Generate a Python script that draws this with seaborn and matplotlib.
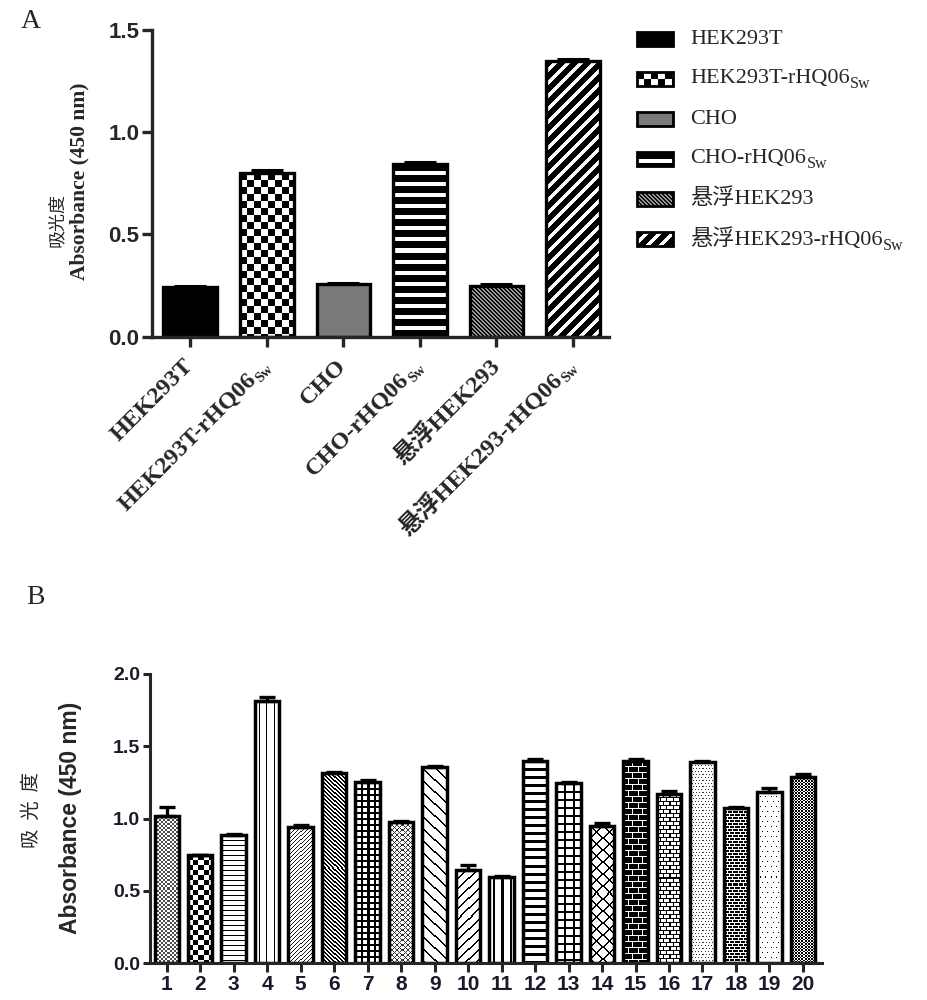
import numpy as np
import pandas as pd
import matplotlib
matplotlib.use("Agg")
import matplotlib.pyplot as plt
from matplotlib.patches import Rectangle
import seaborn as sns

# ---- panel A data ----
cells_a = ["HEK293T", "HEK293T-rHQ06", "CHO", "CHO-rHQ06", "悬浮HEK293", "悬浮HEK293-rHQ06"]
subs_a = ["", "Sw", "", "Sw", "", "Sw"]
mean_a = [0.245, 0.80, 0.256, 0.843, 0.248, 1.348]
err_a = [0.004, 0.015, 0.006, 0.013, 0.008, 0.010]

# ---- panel B data ----
samples_b = ["1", "2", "3", "4", "5", "6", "7", "8", "9", "10",
             "11", "12", "13", "14", "15", "16", "17", "18", "19", "20"]
mean_b = [1.02, 0.745, 0.885, 1.81, 0.94, 1.315, 1.25, 0.975, 1.355, 0.645,
          0.595, 1.40, 1.245, 0.95, 1.40, 1.17, 1.39, 1.075, 1.185, 1.29]
err_b = [0.06, 0.005, 0.008, 0.03, 0.015, 0.01, 0.015, 0.005, 0.005, 0.03,
         0.005, 0.01, 0.01, 0.02, 0.012, 0.02, 0.01, 0.008, 0.025, 0.015]

# bar fill textures: (kind, period, thickness, ink, paper)  0 = black, 1 = white
tex_a = [("solid", 1, 1, 0, 0), ("checker", 7, 0, 0, 1), ("solid", 1, 1, 0.48, 0.48),
         ("h", 11, 7, 0, 1), ("back", 4, 2, 0.05, 0.6), ("fwd", 13, 8, 0, 1)]
tex_b = [("checker", 2, 0, 0.3, 1), ("checker", 5, 0, 0, 1), ("h", 5, 1, 0, 1),
         ("v", 7, 1, 0, 1), ("fwd", 4, 1, 0.1, 1), ("back", 4, 2, 0, 1),
         ("grid", 6, 2, 0, 1), ("cross", 5, 1, 0.2, 1), ("back", 12, 2, 0, 1),
         ("fwd", 10, 2, 0, 1), ("v", 8, 2, 0, 1), ("h", 8, 3, 0, 1),
         ("grid", 8, 2, 0, 1), ("cross", 12, 2, 0, 1), ("brick", 9, 6, 1, 0),
         ("brick", 6, 4, 0, 1), ("dots", 3, 1, 0.2, 1), ("brick", 5, 3, 1, 0),
         ("dots", 5, 1, 0, 1), ("cross", 3, 1, 0, 1)]

SERIF = ["Liberation Serif", "Noto Sans CJK SC"]
SANS = ["Liberation Sans", "Noto Sans CJK SC"]
CJK = ["Noto Sans CJK SC", "DejaVu Sans"]


def texture(style, h, w):
    kind, a, b, ink, paper = style
    I, J = np.mgrid[0:h, 0:w]
    if kind == "solid":
        m = np.ones((h, w), bool)
    elif kind == "checker":
        m = (I // a + J // a) % 2 == 0
    elif kind == "h":
        m = I % a < b
    elif kind == "v":
        m = (J + a // 2) % a < b
    elif kind == "fwd":
        m = (I + J) % a < b
    elif kind == "back":
        m = (I - J) % a < b
    elif kind == "grid":
        m = (I % a < b) | (J % a < b)
    elif kind == "cross":
        m = ((I + J) % a < b) | ((I - J) % a < b)
    elif kind == "dots":
        m = (I % a < b) & ((J + (I // a % 2) * (a // 2)) % a < b)
    else:  # brick
        m = (I % b == 0) | ((J + (I // b % 2) * (a // 2)) % a == 0)
    return np.where(m, ink, paper)


def fill_bars(ax, styles):
    for p, st in zip(ax.patches, styles):
        x0, y0 = p.get_x(), p.get_y()
        x1, y1 = x0 + p.get_width(), y0 + p.get_height()
        (px0, py0), (px1, py1) = ax.transData.transform([(x0, y0), (x1, y1)])
        w = max(int(round(px1 - px0)), 1)
        h = max(int(round(py1 - py0)), 1)
        img = ax.imshow(texture(st, h, w), extent=(x0, x1, y0, y1), cmap="gray",
                        vmin=0, vmax=1, interpolation="nearest", aspect="auto", zorder=1.5)
        img.set_clip_path(p)
        p.set_facecolor("none")
        p.set_zorder(2)


def add_errors(ax, means, errs, capsize, lw):
    xs = [p.get_x() + p.get_width() / 2 for p in ax.patches]
    ax.errorbar(xs, means, yerr=[np.zeros(len(means)), errs], fmt="none", ecolor="black",
                elinewidth=lw, capsize=capsize, capthick=lw, zorder=3)


sns.set_style("ticks")
plt.rcParams["font.family"] = SANS

fig = plt.figure(figsize=(9.27, 10), dpi=100)

# ================= panel A =================
axA = fig.add_axes([152 / 927, 1 - 336.7 / 1000, 457 / 927, 306.7 / 1000])
dfA = pd.DataFrame({"cell": cells_a, "absorbance": mean_a})
sns.barplot(data=dfA, x="cell", y="absorbance", color="white", edgecolor="black",
            linewidth=2.4, width=0.70, errorbar=None, ax=axA)
axA.set_xlim(-0.5, 5.47)
axA.set_ylim(0, 1.5)
axA.set_yticks([0, 0.5, 1.0, 1.5])
fill_bars(axA, tex_a)
add_errors(axA, mean_a, err_a, capsize=11.5, lw=2.2)
axA.set_xlim(-0.5, 5.47)
axA.set_ylim(0, 1.5)
sns.despine(ax=axA)
for s in ["left", "bottom"]:
    axA.spines[s].set_linewidth(2.4)
axA.tick_params(axis="y", length=7, width=2.4, pad=2, labelsize=16)
axA.tick_params(axis="x", length=7, width=2.4)
axA.set_xticks(range(len(cells_a)))
axA.set_xticklabels([])
for t in axA.get_yticklabels():
    t.set_fontweight("bold")
axA.set_xlabel("")
axA.set_ylabel("")

# rotated category labels with subscripts (offsets in points from each tick)
r = np.sqrt(0.5)
for i, (lab, s) in enumerate(zip(cells_a, subs_a)):
    back = 14.0 if s else 0.0
    axA.annotate(lab, xy=(i, 0), xycoords=("data", "axes fraction"),
                 xytext=(-back * r, -19 - back * r), textcoords="offset points",
                 rotation=45, rotation_mode="anchor", ha="right", va="center",
                 fontsize=17.5, fontweight="bold", fontfamily=SERIF, annotation_clip=False)
    if s:
        axA.annotate(s, xy=(i, 0), xycoords=("data", "axes fraction"),
                     xytext=(7 * r, -19 - 7 * r), textcoords="offset points",
                     rotation=45, rotation_mode="anchor", ha="right", va="baseline",
                     fontsize=10.5, fontweight="bold", fontfamily=SERIF, annotation_clip=False)

fig.text(79 / 927, 1 - 181 / 1000, "Absorbance (450 nm)", rotation=90, ha="center", va="center",
         fontsize=15.5, fontweight="bold", fontfamily=SERIF)
fig.text(57 / 927, 1 - 220 / 1000, "吸光度", rotation=90, ha="center", va="center",
         fontsize=13, fontfamily=CJK)
fig.text(31 / 927, 1 - 22 / 1000, "A", ha="center", va="center", fontsize=20, fontfamily=SERIF)

# legend for panel A
axL = fig.add_axes([0, 0, 1, 1])
axL.set_xlim(0, 927)
axL.set_ylim(1000, 0)
axL.axis("off")
axL.patch.set_alpha(0)
for i, (lab, sub, st) in enumerate(zip(cells_a, subs_a, tex_a)):
    yc = 39 + 40 * i
    axL.imshow(texture(st, 14, 36), extent=(637, 673, yc + 7, yc - 7), cmap="gray",
               vmin=0, vmax=1, interpolation="nearest", aspect="auto")
    axL.add_patch(Rectangle((637, yc - 7), 36, 14, fill=False, edgecolor="black", linewidth=2))
    t = axL.text(690, yc, lab, va="center", ha="left", fontsize=16, fontfamily=SERIF)
    if sub:
        axL.annotate(sub, xy=(1, 0), xycoords=t, xytext=(0.5, 0), textcoords="offset points",
                     va="baseline", ha="left", fontsize=11.5, fontfamily=SERIF)
axL.set_xlim(0, 927)
axL.set_ylim(1000, 0)

# ================= panel B =================
axB = fig.add_axes([150 / 927, 0.037, 672 / 927, 0.289])
dfB = pd.DataFrame({"sample": samples_b, "absorbance": mean_b})
sns.barplot(data=dfB, x="sample", y="absorbance", color="white", edgecolor="black",
            linewidth=2.5, width=0.73, errorbar=None, ax=axB)
axB.set_xlim(-0.5, 19.57)
axB.set_ylim(0, 2.0)
axB.set_yticks([0, 0.5, 1.0, 1.5, 2.0])
fill_bars(axB, tex_b)
add_errors(axB, mean_b, err_b, capsize=6, lw=2.4)
axB.set_xlim(-0.5, 19.57)
axB.set_ylim(0, 2.0)
sns.despine(ax=axB)
for s in ["left", "bottom"]:
    axB.spines[s].set_linewidth(2.2)
axB.tick_params(axis="y", length=5, width=2.2, pad=2, labelsize=14)
axB.tick_params(axis="x", length=6.5, width=2.2, pad=2, labelsize=15)
for t in axB.get_yticklabels() + axB.get_xticklabels():
    t.set_fontweight("bold")
    t.set_color("#1a1a2a")
axB.set_xlabel("")
axB.set_ylabel("")

fig.text(70 / 927, 1 - 818 / 1000, "Absorbance (450 nm)", rotation=90, ha="center", va="center",
         fontsize=16.5, fontweight="bold", fontfamily=SANS)
fig.text(31 / 927, 1 - 810 / 1000, "吸  光  度", rotation=90, ha="center", va="center",
         fontsize=14, fontfamily=CJK)
fig.text(35 / 927, 1 - 598 / 1000, "B", ha="center", va="center", fontsize=20, fontfamily=SERIF)

fig.savefig("out.png", dpi=100)
